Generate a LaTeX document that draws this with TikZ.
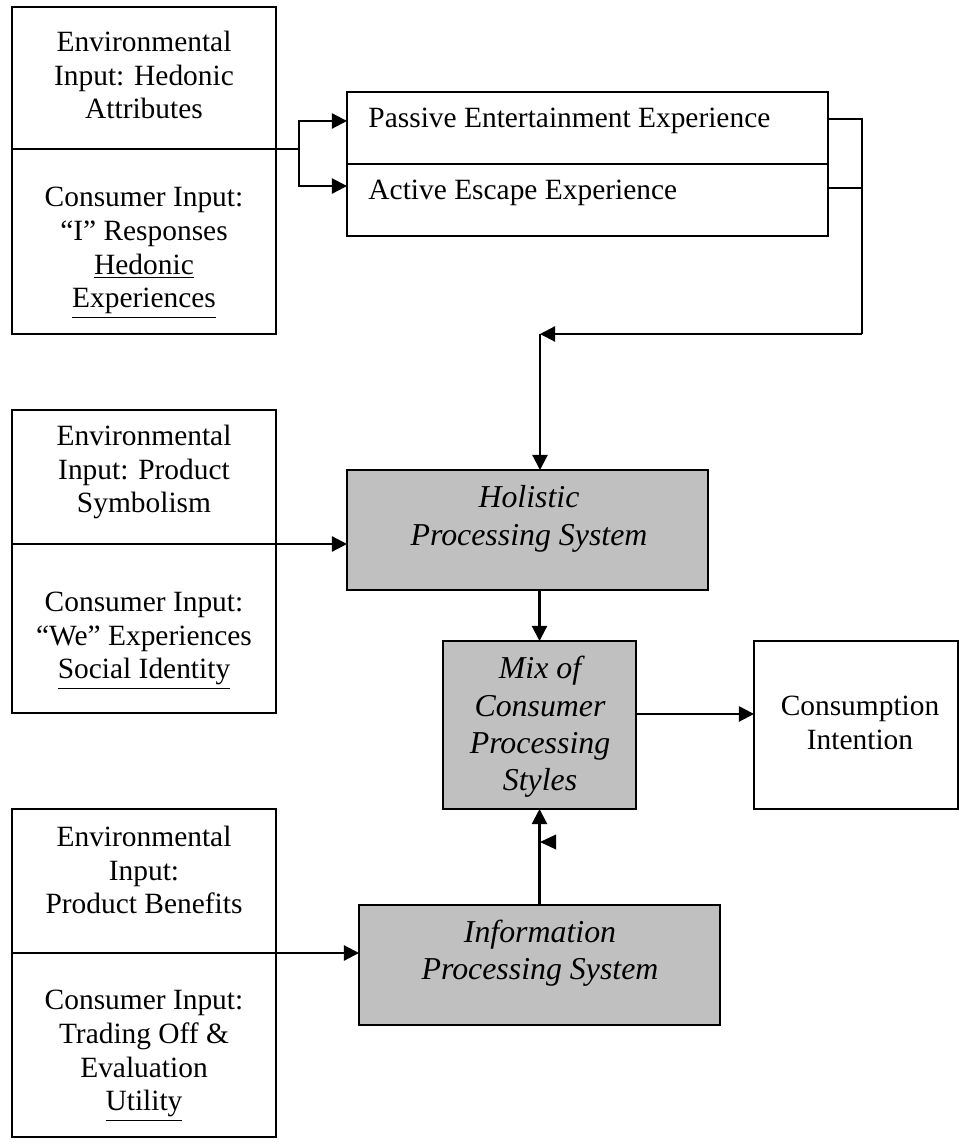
\documentclass[tikz,border=0pt]{standalone}
\usepackage{fontspec}
\setmainfont{Liberation Serif}
\usetikzlibrary{arrows.meta,fit}
\definecolor{boxgray}{HTML}{C0C0C0}

\begin{document}
\begin{tikzpicture}[x=0.408pt,y=-0.408pt,
		box/.style={draw,line width=0.9pt,inner sep=0pt,outer sep=0pt},
		sysbox/.style={box,fill=boxgray},
		txt/.style={align=center,inner sep=0pt,font=\fontsize{12}{13.8}\selectfont},
		systxt/.style={align=center,inner sep=0pt,font=\fontsize{13}{15.2}\selectfont\itshape},
		wire/.style={line width=0.9pt},
		arr/.style={wire,-{Triangle[length=6.2pt,width=6.2pt]}}]
		\useasboundingbox (0,0) rectangle (965,1144);
		\def\lx{12}   % left edge of input boxes
		\def\rx{276}  % right edge of input boxes
		\def\cx{144}  % text centre of input boxes
		
		% hedonic inputs
		\node[box,fit={(\lx,7) (\rx,149)}] (hedEnv) {};
		\node[box,fit={(\lx,149) (\rx,334)}] (hedCon) {};
		\node[txt] (hedEnvT) at (\cx,75) {Environmental\\Input: Hedonic\\Attributes};
		\node[txt] (hedConT) at (\cx,253) {Consumer Input:\\“I” Responses\\\underline{Hedonic}\\\underline{Experiences}};
		
		% experiences
		\node[box,fit={(347,92) (828,164)}] (pasv) {};
		\node[box,fit={(347,164) (828,236)}] (actv) {};
		\node[txt,anchor=west] (pasvT) at (368,121) {Passive Entertainment Experience};
		\node[txt,anchor=west] (actvT) at (368,193) {Active Escape Experience};
		
		\coordinate (split) at (299,149);
		\draw[wire] (hedEnv.south east) -- (split);
		\draw[arr] (split) |- (pasv.west |- pasvT.west);
		\draw[arr] (split) |- ([yshift=5.7pt]actv.west);
		
		% holistic system
		\node[sysbox,fit={(347,470) (708,590)}] (hol) {};
		\node[systxt] (holT) at (529,519) {Holistic\\Processing System};
		
		\coordinate (fbTop) at (862,119);
		\coordinate (fbBot) at (862,188);
		\coordinate (fbCorner) at (862,334);
		\coordinate (fbJoin) at (540,334);
		\draw[wire] (pasv.east |- fbTop) -- (fbTop) -- (fbCorner);
		\draw[wire] (actv.east |- fbBot) -- (fbBot);
		\draw[arr] (fbCorner) -- (fbJoin);
		\draw[arr] (fbJoin) -- (fbJoin |- hol.north);
		
		% symbolic inputs
		\node[box,fit={(\lx,410) (\rx,544)}] (symEnv) {};
		\node[box,fit={(\lx,544) (\rx,713)}] (symCon) {};
		\node[txt] (symEnvT) at (\cx,472) {Environmental\\Input: Product\\Symbolism};
		\node[txt] (symConT) at (\cx,641) {Consumer Input:\\“We” Experiences\\\underline{Social Identity}};
		\draw[arr] (symEnv.south east) -- (hol.west |- symEnv.south east);
		
		% mix and outcome
		\node[sysbox,fit={(443,641) (636,809)}] (mix) {};
		\node[systxt] (mixT) at (540,727) {Mix of\\Consumer\\Processing\\Styles};
		\draw[arr] (mix.north |- hol.south) -- (mix.north);
		
		\node[box,fit={(754,641) (958,809)}] (cons) {};
		\node[txt] (consT) at (860,723) {Consumption\\Intention};
		\draw[arr] ([yshift=4.5pt]mix.east) -- ([yshift=4.5pt]cons.west);
		
		% information system
		\node[sysbox,fit={(359,905) (720,1025)}] (info) {};
		\node[systxt] (infoT) at (540,953) {Information\\Processing System};
		\draw[arr] (info.north) -- (mix.south);
		\fill (540,842) -- ++(16,-7.5) -- ++(0,15) -- cycle;
		
		% utilitarian inputs
		\node[box,fit={(\lx,809) (\rx,953)}] (benEnv) {};
		\node[box,fit={(\lx,953) (\rx,1137)}] (benCon) {};
		\node[txt] (benEnvT) at (\cx,870) {Environmental\\Input:\\Product Benefits};
		\node[txt] (benConT) at (\cx,1056) {Consumer Input:\\Trading Off \&\\Evaluation\\\underline{Utility}};
		\draw[arr] (benEnv.south east) -- (info.west |- benEnv.south east);
		
	\end{tikzpicture}
\end{document}
